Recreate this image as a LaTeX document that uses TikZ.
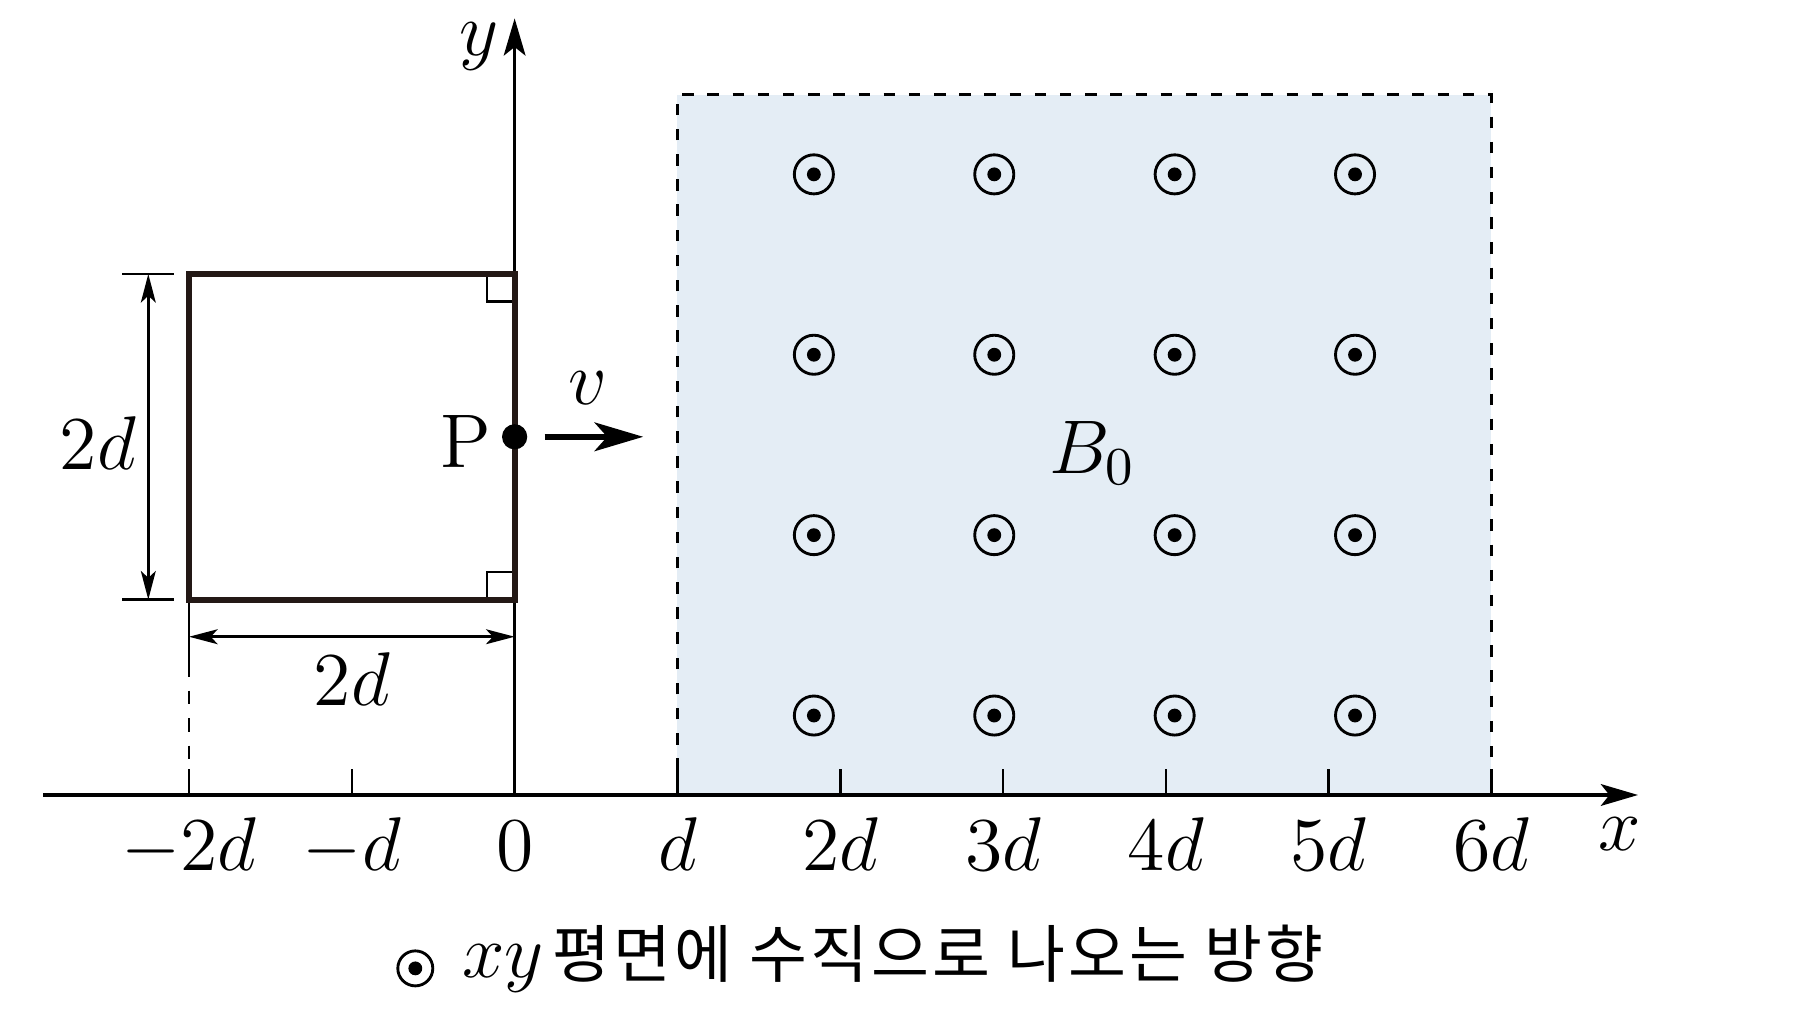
\RequirePackage{fix-cm}
\documentclass[tikz,border=0pt]{standalone}
\usepackage{fontspec}
\newfontfamily\kr{Noto Sans CJK KR}
\usetikzlibrary{arrows.meta}
\definecolor{fieldblue}{RGB}{228,237,245}
\definecolor{wire}{RGB}{35,24,21}
\tikzstyle{dot}=[circle,fill,inner sep=0pt,minimum size=1.55mm]
\tikzstyle{bout}=[circle,draw,line width=0.5pt,inner sep=0pt,minimum size=2.4mm]
\tikzstyle{bdot}=[circle,fill,inner sep=0pt,minimum size=0.85mm]
\tikzstyle{axis}=[line width=0.55pt,-{Stealth[length=6.5pt,width=3.8pt,inset=1.5pt]}]
\tikzstyle{dim}=[line width=0.45pt,{Stealth[length=5pt,width=2.6pt,inset=1.2pt]}-{Stealth[length=5pt,width=2.6pt,inset=1.2pt]}]
\tikzstyle{ticklabel}=[anchor=base]

\begin{document}
\begin{tikzpicture}[font=\fontsize{13.3}{16}\selectfont]
    \useasboundingbox (-3.161,-1.376) rectangle (7.852,4.883);
    \fill[fieldblue] (1,0) rectangle (6,4.3);
    \draw[line width=0.5pt,dash pattern=on 2pt off 2.4pt] (1,0) -- (1,4.3) -- (6,4.3) -- (6,0);
    \foreach \i in {0,...,3}
      \foreach \j in {0,...,3} {
        \node[bout] (b\i\j) at ({1.838+1.108*\i},{0.488+1.108*\j}) {};
        \node[bdot] (c\i\j) at (b\i\j) {};
      }
    \node (B0) at (3.55,2.1) {$B_0$};
    \coordinate (O) at (0,0);
    \coordinate (xend) at (6.9,0);
    \coordinate (yend) at (0,4.77);
    \draw[axis] (-2.894,0) -- (xend);
    \draw[axis] (O) -- (yend);
    \node (xlab) at (6.79,-0.24) {$x$};
    \node (ylab) at (-0.22,4.6) {$y$};
    \foreach \t/\lab in {-2/-2d,-1/-d,1/d,2/2d,3/3d,4/4d,5/5d,6/6d} {
        \draw[line width=0.45pt] (\t,0) -- (\t,0.16);
        \node[ticklabel] (t\t) at (\t,-0.465) {$\lab$};
    }
    \node[ticklabel] (t0) at (0,-0.465) {$0$};
    \coordinate (bl) at (-2,1.2);
    \coordinate (tr) at (0,3.2);
    \draw[line width=0.45pt] (bl) -- (-2,0.81);
    \draw[line width=0.45pt,dash pattern=on 2.4pt off 2.4pt] (-2,0.81) -- (-2,0.16);
    \draw[line width=0.45pt] (-0.17,3.2) |- (0,3.03);
    \draw[line width=0.45pt] (-0.17,1.2) |- (0,1.37);
    \draw[wire,line width=1.05pt] (bl) rectangle (tr);
    \node[dot] (P) at (0,2.2) {};
    \node (Plab) at (-0.30,2.17) {P};
    \coordinate (v0) at (0.184,2.2);
    \coordinate (v1) at (0.79,2.2);
    \draw[line width=1pt,-{Stealth[length=8.5pt,width=5pt,inset=2.2pt]}] (v0) -- (v1);
    \node (vlab) at (0.45,2.5) {$v$};
    \draw[line width=0.45pt] (-2.41,3.2) -- (-2.09,3.2);
    \draw[line width=0.45pt] (-2.41,1.2) -- (-2.09,1.2);
    \draw[dim] (-2.25,1.2) -- (-2.25,3.2);
    \node (hlab) at (-2.56,2.16) {$2d$};
    \draw[dim] (-2,0.972) -- (0,0.972);
    \node (wlab) at (-1,0.71) {$2d$};
    \node[bout,minimum size=2.15mm] (lout) at (-0.61,-1.065) {};
    \node[bdot] (ldot) at (lout) {};
    \node[anchor=base west,inner sep=0pt] (legend) at (-0.33,-1.118) {$xy$\hspace{1.5pt}{\kr\fontsize{11}{13}\selectfont\addfontfeature{LetterSpace=5} 평면에 수직으로 나오는 방향}};
\end{tikzpicture}
\end{document}
